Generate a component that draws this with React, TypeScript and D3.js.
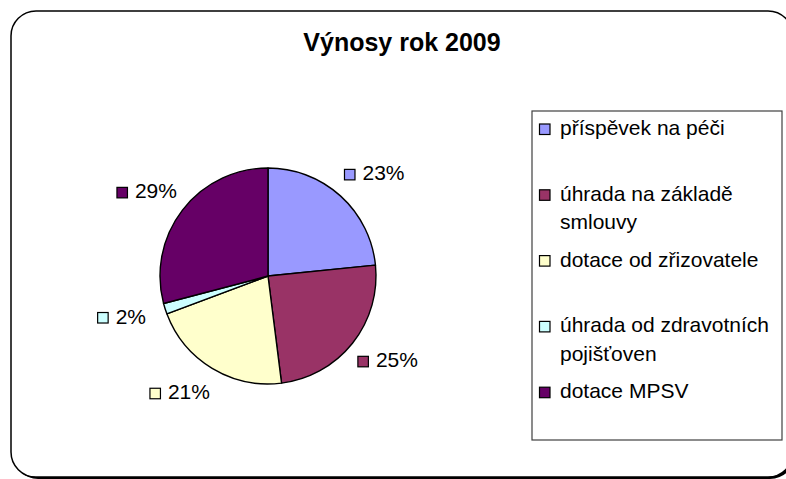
import React from "react";
import * as d3 from "d3";

const title = "Výnosy rok 2009";
const categories = [
  "příspěvek na péči",
  "úhrada na základě smlouvy",
  "dotace od zřizovatele",
  "úhrada od zdravotních pojišťoven",
  "dotace MPSV",
];
const values = [23.4, 24.6, 21.3, 1.6, 29.1];
const colors = ["#9999FF", "#993366", "#FFFFCC", "#CCFFFF", "#660066"];

const W = 786;
const H = 479;
const font = "'Liberation Sans', Arial, sans-serif";

// greedy wrap, Excel breaks legend entries around 21 chars here
function wrap(s: string, max: number) {
  const lines: string[] = [];
  let cur = "";
  s.split(" ").forEach((w) => {
    const t = cur ? cur + " " + w : w;
    if (t.length > max && cur) {
      lines.push(cur);
      cur = w;
    } else cur = t;
  });
  if (cur) lines.push(cur);
  return lines;
}

export default function App() {
  const cx = 268;
  const cy = 276;
  const r = 108;

  const total = d3.sum(values);
  const pie = d3
    .pie<number>()
    .sort(null)
    .value((d) => d);
  const arcs = pie(values);
  const arc = d3.arc<d3.PieArcDatum<number>>().innerRadius(0).outerRadius(r);

  const legend = { x: 532, y: 111, w: 250, h: 329 };
  const yLeg = d3
    .scaleBand<number>()
    .domain(d3.range(categories.length))
    .range([legend.y, legend.y + legend.h]);

  return (
    <svg
      width={W}
      height={H}
      style={{ position: "absolute", left: 0, top: 0, background: "white" }}
      fontFamily={font}
    >
      {/* chart area frame with shadow */}
      <rect x={13} y={13} width={782} height={466} rx={25} fill="#000" />
      <rect
        x={11}
        y={11}
        width={782}
        height={466}
        rx={25}
        fill="white"
        stroke="black"
        strokeWidth={1.5}
      />

      <text
        x={402}
        y={51}
        textAnchor="middle"
        fontSize={25}
        fontWeight="bold"
        fill="black"
      >
        {title}
      </text>

      <g transform={`translate(${cx},${cy})`}>
        {arcs.map((a, i) => (
          <path
            key={i}
            d={arc(a) || ""}
            fill={colors[i]}
            stroke="black"
            strokeWidth={1.4}
            strokeLinejoin="round"
          />
        ))}
      </g>

      {arcs.map((a, i) => {
        const mid = (a.startAngle + a.endAngle) / 2;
        const s = Math.sin(mid);
        const lx = cx + s * 120 + Math.sign(s) * 26;
        const ly = cy - Math.cos(mid) * 137;
        const base = ly + 6;
        const pct = Math.round((values[i] / total) * 100) + "%";
        return (
          <g key={i}>
            <rect
              x={lx - 30}
              y={base - 11}
              width={10.5}
              height={10.5}
              fill={colors[i]}
              stroke="black"
              strokeWidth={1.2}
            />
            <text x={lx - 12} y={base} fontSize={21} fill="black">
              {pct}
            </text>
          </g>
        );
      })}

      <rect
        x={legend.x}
        y={legend.y}
        width={legend.w}
        height={legend.h}
        fill="white"
        stroke="#404040"
        strokeWidth={1.2}
      />
      {categories.map((c, i) => {
        const base = (yLeg(i) || 0) + 24;
        const lines = wrap(c, 21);
        return (
          <g key={c}>
            <rect
              x={539.5}
              y={base - 11}
              width={10.5}
              height={10.5}
              fill={colors[i]}
              stroke="black"
              strokeWidth={1.2}
            />
            <text x={560} y={base} fontSize={21} fill="black">
              {lines.map((l, j) => (
                <tspan key={j} x={560} dy={j === 0 ? 0 : 28.5}>
                  {l}
                </tspan>
              ))}
            </text>
          </g>
        );
      })}
    </svg>
  );
}
